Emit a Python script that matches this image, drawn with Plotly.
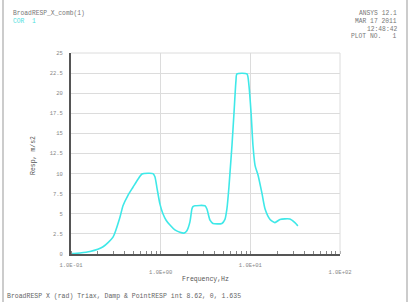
import plotly.graph_objects as go

freq = [0.1, 0.126, 0.163, 0.228, 0.294, 0.352, 0.380, 0.432, 0.491, 0.558, 0.619, 0.722,
        0.821, 0.863, 0.910, 0.982, 1.06, 1.15, 1.27, 1.44, 1.64, 1.82, 1.96, 2.12, 2.23,
        2.29, 2.41, 3.12, 3.28, 3.55, 3.83, 4.82, 5.21, 5.48, 5.77, 5.92, 6.24, 6.57, 6.91,
        7.09, 9.17, 9.64, 10.2, 10.7, 11.3, 12.2, 13.5, 14.6, 16.6, 18.8, 21.4, 27.6, 31.4, 33.9]
resp = [0.05, 0.12, 0.3, 0.9, 2.1, 4.6, 6.0, 7.3, 8.3, 9.3, 9.95, 10.05,
        10.0, 9.6, 8.2, 6.2, 5.0, 4.2, 3.6, 3.0, 2.7, 2.6, 2.9, 4.0, 5.6,
        5.9, 6.0, 6.0, 5.6, 4.2, 3.8, 3.8, 4.3, 5.6, 8.3, 10.0, 13.5, 17.5, 21.5,
        22.4, 22.4, 21.0, 17.5, 13.5, 11.0, 9.8, 7.5, 5.6, 4.3, 3.9, 4.3, 4.35, 3.9, 3.5]

x_tickvals = [0.1, 1, 10, 100]
x_ticktext = ["1.0E-01", "<br>1.0E+00", "1.0E+01", "<br>1.0E+02"]
y_tickvals = [0, 2.5, 5, 7.5, 10, 12.5, 15, 17.5, 20, 22.5, 25]
y_ticktext = ["0", "2.5", "5", "7.5", "10", "12.5", "15", "17.5", "20", "22.5", "25"]

MONO = "Liberation Mono, DejaVu Sans Mono, monospace"

fig = go.Figure()
fig.add_trace(go.Scatter(x=freq, y=resp, mode="lines",
                         line=dict(color="#3fe8e8", width=1.6, shape="spline", smoothing=0.6),
                         showlegend=False))

L, R, T, B = 71, 70, 53, 48
W, H = 410, 302
pw, ph = W - L - R, H - T - B

def px(x):
    return (x - L) / pw

def py(y):
    return (H - B - y) / ph

fig.update_layout(
    width=W, height=H,
    margin=dict(l=L, r=R, t=T, b=B),
    paper_bgcolor="white", plot_bgcolor="white",
    font=dict(family=MONO, size=6, color="#777"),
    xaxis=dict(type="log", range=[-1, 2], tickvals=x_tickvals, ticktext=x_ticktext,
               showgrid=True, gridcolor="#dcdcdc", gridwidth=1,
               showline=True, linecolor="#555", linewidth=2, mirror=False,
               ticks="", tickfont=dict(size=5.5, color="#888"),
               ticklabelstandoff=4,
               minor=dict(ticks="inside", ticklen=3, tickcolor="#888", showgrid=False, dtick="D1"),
               title=dict(text="Frequency,Hz", font=dict(size=6.5, color="#555"), standoff=2),
               zeroline=False),
    yaxis=dict(range=[0, 25], tickvals=y_tickvals, ticktext=y_ticktext,
               showgrid=True, gridcolor="#dcdcdc", gridwidth=1,
               showline=True, linecolor="#555", linewidth=2,
               ticks="", tickfont=dict(size=5.5, color="#888"),
               ticklabelstandoff=5,
               zeroline=False),
)

# top and right frame of plot area
fig.add_shape(type="line", xref="paper", yref="paper", x0=0, x1=1, y0=1, y1=1,
              line=dict(color="#dcdcdc", width=1))
fig.add_shape(type="line", xref="paper", yref="paper", x0=1, x1=1, y0=0, y1=1,
              line=dict(color="#dcdcdc", width=1))
# outer window borders
for xp in (3, 407):
    fig.add_shape(type="line", xref="paper", yref="paper", x0=px(xp), x1=px(xp),
                  y0=py(302), y1=py(0), line=dict(color="#bbbbbb", width=1.5))

ann = [
    dict(text="Resp, m/s2", x=px(33), y=py(156), textangle=-90, font=dict(size=6.5, color="#555")),
    dict(text="BroadRESP_X_comb(1)", x=px(11), y=py(13), xanchor="left", font=dict(size=6.3, color="#777")),
    dict(text="COR  1", x=px(11), y=py(22), xanchor="left", font=dict(size=6.3, color="#4fe0e0")),
    dict(text="ANSYS 12.1", x=px(399), y=py(13), xanchor="right", font=dict(size=6.3, color="#777")),
    dict(text="MAR 17 2011", x=px(399), y=py(21), xanchor="right", font=dict(size=6.3, color="#777")),
    dict(text="12:48:42", x=px(399), y=py(29), xanchor="right", font=dict(size=6.3, color="#777")),
    dict(text="PLOT NO.   1", x=px(399), y=py(37), xanchor="right", font=dict(size=6.3, color="#777")),
    dict(text="BroadRESP X (rad) Triax, Damp & PointRESP int 8.62, 0, 1.635", x=px(5), y=py(296),
         xanchor="left", font=dict(size=6.5, color="#666")),
]
for a in ann:
    a.update(xref="paper", yref="paper", showarrow=False, yanchor="middle")
    a.setdefault("xanchor", "center")
    fig.add_annotation(**a)

fig.write_html("out.html")
